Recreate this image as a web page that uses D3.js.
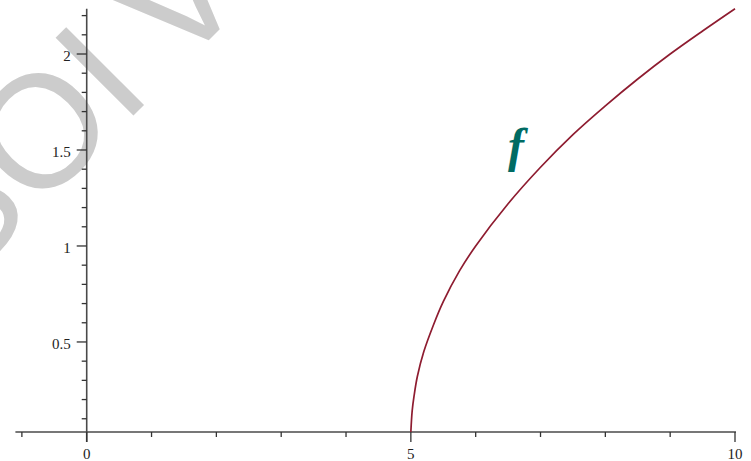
<!DOCTYPE html>
<html>
<head>
<meta charset="utf-8">
<script src="https://cdn.jsdelivr.net/npm/d3@7"></script>
<style>
  html, body { margin: 0; padding: 0; background: #ffffff; }
  svg { display: block; }
</style>
</head>
<body>
<svg id="chart" width="751" height="461"></svg>
<script>
// Points along the curve f (x, y)
const curveX = [5.0, 5.02, 5.05, 5.1, 5.2, 5.35, 5.5, 5.75, 6.0, 6.5, 7.0, 7.5, 8.0, 8.5, 9.0, 9.5, 10.0];
const curveY = [0.03, 0.14, 0.22, 0.32, 0.45, 0.59, 0.71, 0.87, 1.0, 1.22, 1.41, 1.58, 1.73, 1.87, 2.0, 2.12, 2.236];

// Axis ticks
const xMajorTicks = [0, 5, 10];
const xMinorTicks = [-1, 1, 2, 3, 4, 6, 7, 8, 9];
const yMajorTicks = [0.5, 1, 1.5, 2];
const yMinorTicks = [0.1, 0.2, 0.3, 0.4, 0.6, 0.7, 0.8, 0.9, 1.1, 1.2, 1.3, 1.4, 1.6, 1.7, 1.8, 1.9, 2.1, 2.2];

// View window
const xDomain = [-1.1, 10];
const yDomain = [0.031, 2.236];

// Background lettering: glyphs and their centres along the slanted baseline
const wmLetters = ["S", "O", "I", "V"];
const wmOffsets = [-179, -64, 20, 127];

const svg = d3.select("#chart");

const x = d3.scaleLinear().domain(xDomain).range([15.4, 735]);
const y = d3.scaleLinear().domain(yDomain).range([432, 8.7]);

// faint slanted lettering behind the plot
const wm = svg.append("g").attr("transform", "rotate(-45)");
wm.selectAll("text").data(wmLetters).join("text")
  .attr("x", (d, i) => wmOffsets[i])
  .attr("y", 176)
  .attr("text-anchor", "middle")
  .attr("font-family", "'Liberation Sans', Arial, sans-serif")
  .attr("font-size", 160)
  .attr("fill", "#cccccc")
  .text(d => d);

const axisColor = "#4a4a4a";
const tickColor = "#333333";

// x axis line
svg.append("line")
  .attr("x1", x(xDomain[0])).attr("x2", x(xDomain[1]) + 1)
  .attr("y1", y(yDomain[0])).attr("y2", y(yDomain[0]))
  .attr("stroke", axisColor).attr("stroke-width", 1.6);

// y axis line
svg.append("line")
  .attr("x1", x(0)).attr("x2", x(0))
  .attr("y1", y(yDomain[1])).attr("y2", y(yDomain[0]) + 10)
  .attr("stroke", axisColor).attr("stroke-width", 1.6);

// x ticks
svg.append("g").selectAll("line").data(xMajorTicks).join("line")
  .attr("x1", d => x(d)).attr("x2", d => x(d))
  .attr("y1", y(yDomain[0])).attr("y2", y(yDomain[0]) + 10)
  .attr("stroke", tickColor).attr("stroke-width", 1.3);
svg.append("g").selectAll("line").data(xMinorTicks).join("line")
  .attr("x1", d => x(d)).attr("x2", d => x(d))
  .attr("y1", y(yDomain[0])).attr("y2", y(yDomain[0]) + 5)
  .attr("stroke", tickColor).attr("stroke-width", 1.3);

// y ticks
svg.append("g").selectAll("line").data(yMajorTicks).join("line")
  .attr("x1", x(0) - 10).attr("x2", x(0))
  .attr("y1", d => y(d)).attr("y2", d => y(d))
  .attr("stroke", tickColor).attr("stroke-width", 1.3);
svg.append("g").selectAll("line").data(yMinorTicks).join("line")
  .attr("x1", x(0) - 5).attr("x2", x(0))
  .attr("y1", d => y(d)).attr("y2", d => y(d))
  .attr("stroke", tickColor).attr("stroke-width", 1.3);

// tick labels
const labelFont = "'Liberation Serif', 'Times New Roman', serif";
svg.append("g").selectAll("text").data(xMajorTicks).join("text")
  .attr("x", d => x(d)).attr("y", 459)
  .attr("text-anchor", "middle")
  .attr("font-family", labelFont).attr("font-size", 15)
  .attr("fill", "#222")
  .text(d => d);
svg.append("g").selectAll("text").data(yMajorTicks).join("text")
  .attr("x", x(0) - 16).attr("y", d => y(d) + 7)
  .attr("text-anchor", "end")
  .attr("font-family", labelFont).attr("font-size", 15)
  .attr("fill", "#222")
  .text(d => d);

// curve f
const pts = curveX.map((v, i) => [v, curveY[i]]);
const line = d3.line()
  .x(d => x(d[0]))
  .y(d => y(Math.max(d[1], yDomain[0])))
  .curve(d3.curveCatmullRom.alpha(0.5));
svg.append("path")
  .datum(pts)
  .attr("d", line)
  .attr("fill", "none")
  .attr("stroke", "#8e1c30")
  .attr("stroke-width", 1.7);

// function name
svg.append("text")
  .attr("x", 508).attr("y", 162)
  .attr("font-family", labelFont)
  .attr("font-style", "italic").attr("font-weight", "bold")
  .attr("font-size", 48)
  .attr("fill", "#006b63")
  .text("f");
</script>
</body>
</html>
